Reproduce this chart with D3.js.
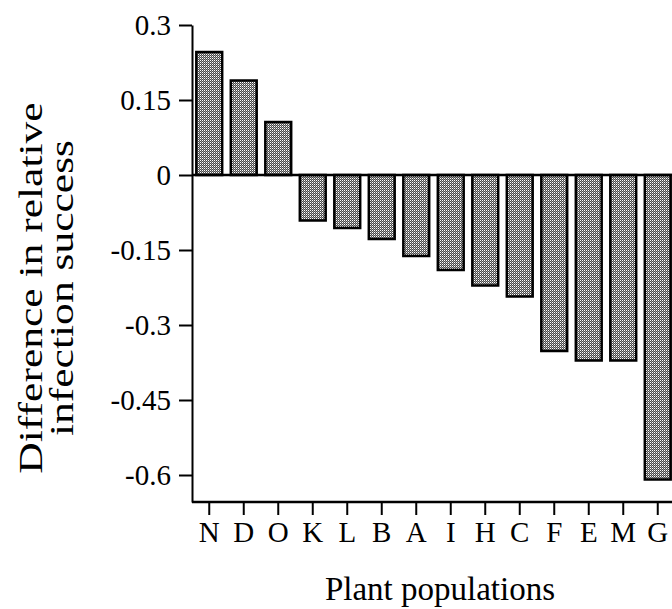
<!DOCTYPE html>
<html>
<head>
<meta charset="utf-8">
<script src="https://cdn.jsdelivr.net/npm/d3@7"></script>
<style>
	body { margin: 0; background: #fff; }
	svg text { font-family: "Liberation Serif", "DejaVu Serif", serif; fill: #000; }
</style>
</head>
<body>
<div id="chart"></div>
<script>
// data
const populations = ['N', 'D', 'O', 'K', 'L', 'B', 'A', 'I', 'H', 'C', 'F', 'E', 'M', 'G'];
const diffValues = [0.246, 0.189, 0.106, -0.091, -0.106, -0.128, -0.162, -0.19, -0.221, -0.243, -0.352, -0.371, -0.371, -0.609];
const yTicks = [0.3, 0.15, 0, -0.15, -0.3, -0.45, -0.6];
const yTickLabels = ['0.3', '0.15', '0', '-0.15', '-0.3', '-0.45', '-0.6'];

const W = 672, H = 609;
const m = { left: 192, right: 0, top: 25, bottom: 107 };

const svg = d3.select('#chart').append('svg')
	.attr('width', W)
	.attr('height', H);

// stipple fill like the print
const pat = svg.append('defs').append('pattern')
	.attr('id', 'stipple')
	.attr('width', 2).attr('height', 2)
	.attr('patternUnits', 'userSpaceOnUse');
pat.append('rect').attr('width', 2).attr('height', 2).attr('fill', '#4a4a4a');
pat.append('rect').attr('x', 0).attr('y', 0).attr('width', 1).attr('height', 1).attr('fill', '#fff');
pat.append('rect').attr('x', 1).attr('y', 1).attr('width', 1).attr('height', 1).attr('fill', '#999');

const x = d3.scaleBand()
	.domain(populations)
	.range([m.left, m.left + 14 * 34.5])
	.paddingInner(0.25)
	.paddingOuter(0.125);

const y = d3.scaleLinear()
	.domain([-0.654, 0.3])
	.range([H - m.bottom, m.top]);

// y axis
const yAxis = d3.axisLeft(y)
	.tickValues(yTicks)
	.tickFormat((d, i) => yTickLabels[i])
	.tickSize(13)
	.tickSizeOuter(0)
	.tickPadding(8);

const gy = svg.append('g')
	.attr('transform', `translate(${m.left},0)`)
	.call(yAxis)
	.attr('font-family', null)
	.attr('font-size', 29);
gy.select('.domain').attr('stroke-width', 2);
gy.selectAll('.tick line').attr('stroke-width', 2);
gy.selectAll('.tick text').attr('dy', '0.32em');

// x axis at bottom
const xAxis = d3.axisBottom(x)
	.tickSize(13)
	.tickSizeOuter(0)
	.tickPadding(6);

const gx = svg.append('g')
	.attr('transform', `translate(0,${y(-0.654)})`)
	.call(xAxis)
	.attr('font-family', null)
	.attr('font-size', 29);
gx.select('.domain').attr('d', `M${m.left},0H${W}`).attr('stroke-width', 2.5);
gx.selectAll('.tick line').attr('stroke-width', 2);

// bars
svg.append('g')
	.selectAll('rect')
	.data(diffValues)
	.enter()
	.append('rect')
	.attr('x', (d, i) => x(populations[i]))
	.attr('width', x.bandwidth())
	.attr('y', d => y(Math.max(0, d)))
	.attr('height', d => Math.abs(y(d) - y(0)))
	.attr('fill', 'url(#stipple)')
	.attr('stroke', '#000')
	.attr('stroke-width', 2.5);

// zero line
svg.append('line')
	.attr('x1', m.left).attr('x2', W)
	.attr('y1', y(0)).attr('y2', y(0))
	.attr('stroke', '#000')
	.attr('stroke-width', 2.5);

// axis titles (the print has the y title stretched along the axis)
const yTitle = svg.append('text')
	.attr('transform', 'translate(0,288) rotate(-90) scale(1.28,1)')
	.attr('text-anchor', 'middle')
	.attr('font-size', 34);
yTitle.append('tspan').attr('x', 0).attr('y', 42).text('Difference in relative');
yTitle.append('tspan').attr('x', 0).attr('y', 73).text('infection success');

svg.append('text')
	.attr('x', 440)
	.attr('y', 600)
	.attr('text-anchor', 'middle')
	.attr('font-size', 33)
	.text('Plant populations');
</script>
</body>
</html>
